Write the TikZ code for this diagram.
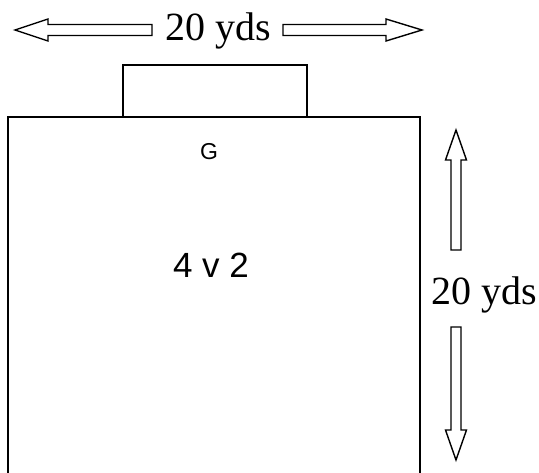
\documentclass[tikz,border=0pt]{standalone}
\usepackage{fontspec}
\setmainfont{Liberation Serif}
\setsansfont{Liberation Sans}
\usepackage{tikz}
\tikzset{
  field/.style={line width=1.8pt, line join=miter},
  dimarrow/.style={line width=1.4pt, fill=white, line join=miter},
  dimlabel/.style={font=\fontsize{40}{44}\selectfont, anchor=base, inner sep=0pt},
  tag/.style={font=\sffamily\fontsize{23}{27}\selectfont, anchor=base, inner sep=0pt}
}

\begin{document}
\begin{tikzpicture}[x=1pt, y=1pt]
\useasboundingbox (0,0) rectangle (539,472);

% Pitch and goal
\draw[field] (8,-2) -- (8,355) -- (420,355) -- (420,-2);
\draw[field] (123,355) rectangle (307,407);

% Labels
\node[tag] (goal) at (209,312) {G};
\node[tag, font=\sffamily\fontsize{35}{40}\selectfont] (game) at (211,194) {4 v 2};

% Width
\node[dimlabel] (width) at (218,431) {20 yds};
\draw[dimarrow] (15,442) -- (48,453) -- (48,447.5) -- (152,447.5) -- (152,436.5) -- (48,436.5) -- (48,431) -- cycle;
\draw[dimarrow] (422,442) -- (386,453) -- (386,447.5) -- (283,447.5) -- (283,436.5) -- (386,436.5) -- (386,431) -- cycle;

% Length
\node[dimlabel] (length) at (484.5,167) {20 yds};
\draw[dimarrow] (456,342) -- (466.5,312) -- (461,312) -- (461,222) -- (451,222) -- (451,312) -- (445.5,312) -- cycle;
\draw[dimarrow] (456,12) -- (466.5,42) -- (461,42) -- (461,145) -- (451,145) -- (451,42) -- (445.5,42) -- cycle;
\end{tikzpicture}
\end{document}
